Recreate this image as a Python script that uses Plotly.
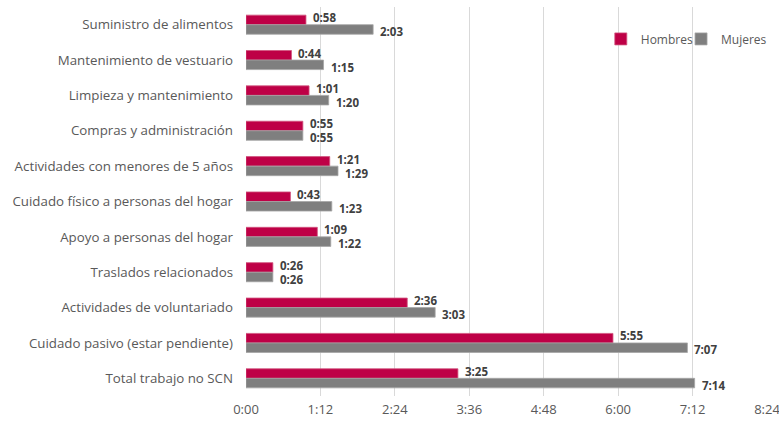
import plotly.graph_objects as go

categories = [
    "Suministro de alimentos",
    "Mantenimiento de vestuario",
    "Limpieza y mantenimiento",
    "Compras y administración",
    "Actividades con menores de 5 años",
    "Cuidado físico a personas del hogar",
    "Apoyo a personas del hogar",
    "Traslados relacionados",
    "Actividades de voluntariado",
    "Cuidado pasivo (estar pendiente)",
    "Total trabajo no SCN",
]
hombres_min = [58, 44, 61, 55, 81, 43, 69, 26, 156, 355, 205]
mujeres_min = [123, 75, 80, 55, 89, 83, 82, 26, 183, 427, 434]
tick_vals = [0, 72, 144, 216, 288, 360, 432, 504]
tick_text = ["0:00", "1:12", "2:24", "3:36", "4:48", "6:00", "7:12", "8:24"]


def fmt(m):
    return f"{m // 60}:{m % 60:02d}"


FONT = "Open Sans"
fig = go.Figure()
fig.add_trace(go.Bar(
    y=categories, x=hombres_min, orientation="h", name="Hombres",
    marker=dict(color="#BE0046", line=dict(color="#D2557F", width=0.8)),
    cliponaxis=False, legend="legend",
))
fig.add_trace(go.Bar(
    y=categories, x=mujeres_min, orientation="h", name="Mujeres",
    marker=dict(color="#7F7F7F", line=dict(color="#A6A6A6", width=0.8)),
    cliponaxis=False, legend="legend2",
))

annotations = []
for cat, h, m in zip(categories, hombres_min, mujeres_min):
    annotations.append(dict(
        x=h, y=cat, xref="x", yref="y", text=fmt(h), showarrow=False,
        xanchor="left", yanchor="middle", xshift=5, yshift=7,
        font=dict(family=FONT, size=11.5, color="#404040", weight="bold"),
    ))
    annotations.append(dict(
        x=m, y=cat, xref="x", yref="y", text=fmt(m), showarrow=False,
        xanchor="left", yanchor="middle", xshift=5, yshift=-7,
        font=dict(family=FONT, size=11.5, color="#404040", weight="bold"),
    ))

legend_style = dict(
    orientation="h", y=0.918, xanchor="left", yanchor="middle",
    font=dict(family=FONT, size=12, color="#595959"),
    itemwidth=30, bgcolor="rgba(0,0,0,0)",
)

fig.update_layout(
    width=779, height=424,
    margin=dict(l=246, r=12, t=7, b=28, autoexpand=False),
    paper_bgcolor="white", plot_bgcolor="white",
    barmode="group", bargap=0.46, bargroupgap=0,
    font=dict(family=FONT, size=13, color="#595959"),
    legend=dict(x=0.681, **legend_style),
    legend2=dict(x=0.835, **legend_style),
    showlegend=True,
    annotations=annotations,
)
fig.update_xaxes(
    range=[0, 504], tickvals=tick_vals, ticktext=tick_text,
    showgrid=True, gridcolor="#D9D9D9", gridwidth=1,
    zeroline=False, showline=False, ticks="", automargin=False,
    tickfont=dict(family=FONT, size=13, color="#595959"),
    ticklabelstandoff=4, ticklabeloverflow="allow",
)
fig.update_yaxes(
    autorange="reversed", showgrid=False, showline=False, ticks="",
    tickfont=dict(family=FONT, size=13.3, color="#595959"),
    ticklabelstandoff=12, automargin=False,
)

# remove the default page margin so the figure fills the window exactly
fig.write_html(
    "out.html",
    config={"displayModeBar": False},
    post_script="document.body.style.margin='0';document.body.style.overflow='hidden';",
)
